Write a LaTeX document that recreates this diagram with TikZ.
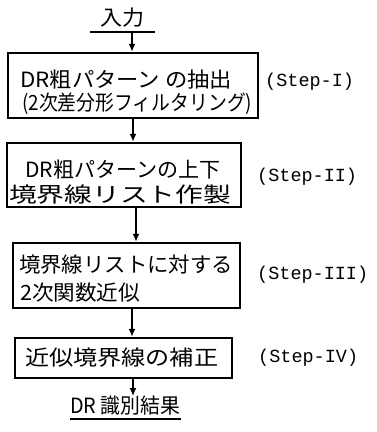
\documentclass[tikz,border=0pt]{standalone}
\usepackage{fontspec}
\usepackage{graphicx}
\usetikzlibrary{arrows.meta}
\newfontfamily\jp{Noto Sans CJK JP}
\setmonofont{Liberation Mono}
\newcommand\fitw[2]{\resizebox{#1}{\height}{#2}}
\begin{document}
\begin{tikzpicture}[x=1pt,y=-1pt,
  box/.style={draw, line width=2.4pt, rectangle, inner sep=0pt},
  txt/.style={inner sep=0pt, anchor=west, font=\jp\fontsize{21}{23}\selectfont},
  steplbl/.style={inner sep=0pt, anchor=west, font=\ttfamily\fontsize{18.5}{20}\selectfont},
  arr/.style={line width=1.8pt, -{Latex[length=8pt,width=7pt]}},
  uline/.style={line width=2.6pt}]
\useasboundingbox (0,0) rectangle (376,432);
% input
\node[txt] (in) at (100,18) {\fitw{44pt}{入力}};
\coordinate (u1) at (90,32);
\coordinate (u2) at (155,32);
\draw[uline] (u1) -- (u2);
\coordinate (inbar) at (132,32);
% boxes
\node[box, minimum width=250pt, minimum height=65pt] (b1) at (133,85.5) {};
\node[box, minimum width=234pt, minimum height=64pt] (b2) at (124,175) {};
\node[box, minimum width=227pt, minimum height=65pt] (b3) at (126.5,275.5) {};
\node[box, minimum width=217pt, minimum height=40pt] (b4) at (123.5,358) {};
% box texts
\node[txt] (t1a) at (20,80) {\fitw{212pt}{DR粗パターン の抽出}};
\node[txt] (t1b) at (22,104) {\fitw{230pt}{(2次差分形フィルタリング)}};
\node[txt] (t2a) at (25,170) {\fitw{195pt}{DR粗パターンの上下}};
\node[txt] (t2b) at (9,195) {\fitw{222pt}{境界線リスト作製}};
\node[txt] (t3a) at (19,265) {\fitw{214pt}{境界線リストに対する}};
\node[txt] (t3b) at (20,293) {\fitw{120pt}{2次関数近似}};
\node[txt] (t4) at (25,358) {\fitw{193pt}{近似境界線の補正}};
% step labels
\node[steplbl] (s1) at (265,82) {(Step-I)};
\node[steplbl] (s2) at (257,177) {(Step-II)};
\node[steplbl] (s3) at (257,275) {(Step-III)};
\node[steplbl] (s4) at (258,358) {(Step-IV)};
% output
\node[txt] (out) at (70,406) {\fitw{110pt}{DR 識別結果}};
\coordinate (o1) at (70,419);
\coordinate (o2) at (181,419);
\draw[line width=2pt] (o1) -- (o2);
% arrows
\coordinate (ax1) at (133,0);
\coordinate (ax2) at (136,0);
\coordinate (ax3) at (132,0);
\draw[arr] (inbar) -- (b1.north -| inbar);
\draw[arr] (b1.south -| ax1) -- (b2.north -| ax1);
\draw[arr] (b2.south -| ax2) -- (b3.north -| ax2);
\draw[arr] (b3.south -| ax3) -- (b4.north -| ax3);
\draw[arr] (b4.south -| ax1) -- (out.north -| ax1);
\end{tikzpicture}
\end{document}
